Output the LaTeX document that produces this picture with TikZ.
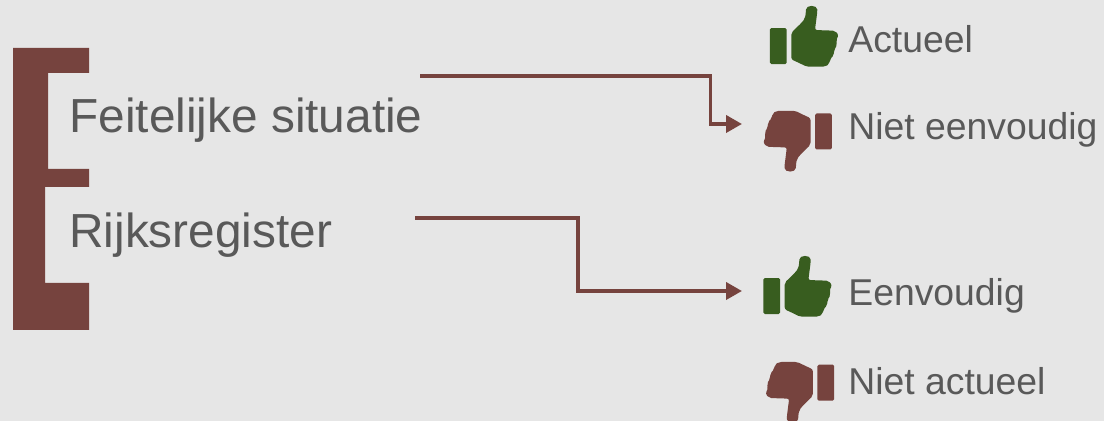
\documentclass[tikz,border=0pt]{standalone}
\usepackage{fontspec}
\usetikzlibrary{arrows.meta}
\setmainfont{Liberation Sans}
\definecolor{bg}{HTML}{E6E6E6}
\definecolor{brown}{HTML}{76433E}
\definecolor{leaf}{HTML}{385D1F}
\definecolor{txt}{HTML}{595959}
\tikzset{
  pics/thumb/.style 2 args={code={
    \begin{scope}[x=0.00667cm, y=-0.00667cm, rotate=#2]
    \fill[#1, rounded corners=0.8pt] (-103,-26) rectangle (-53,82);
    \fill[#1, rounded corners=1.2pt] (-39,-12) -- (-8,-42) -- (2,-55) -- (5,-75)
      .. controls (5,-96) and (39,-96) .. (39,-75)
      -- (32,-20) -- (92,-18) -- (103,-5) -- (95,12) -- (99,25) -- (89,40) -- (89,55) -- (77,68)
      -- (75,82) -- (62,90) -- (7,90) -- (-13,80) -- (-39,68) -- cycle;
    \end{scope}
  }}
}
\begin{document}
\begin{tikzpicture}[x=0.02cm, y=-0.02cm]
\tikzstyle{big}=[text=txt, font=\fontsize{27.2pt}{30pt}\selectfont, anchor=base west, inner sep=0pt]
\tikzstyle{small}=[text=txt, font=\fontsize{21.25pt}{24pt}\selectfont, anchor=base west, inner sep=0pt]
\tikzstyle{link}=[draw=brown, line width=0.075cm, -{Triangle[length=0.32cm, width=0.34cm]}]
\fill[bg] (0,0) rectangle (1104,421);
\useasboundingbox (0,0) rectangle (1104,421);

% bracket
\fill[brown] (13,48) -- (89,48) -- (89,73) -- (48,73) -- (48,169) -- (89,169) -- (89,187) -- (45,187)
  -- (45,283) -- (89,283) -- (89,330) -- (13,330) -- cycle;

\node[big] (feit) at (69,133) {Feitelijke situatie};
\node[big] (rijks) at (69,248) {Rijksregister};

\node[small] (actueel) at (848,52.5) {Actueel};
\node[small] (nieteenv) at (848,140) {Niet eenvoudig};
\node[small] (eenv) at (848,306) {Eenvoudig};
\node[small] (nietact) at (848,395) {Niet actueel};

\pic (upA) at (804.3,36.7) {thumb={leaf}{0}};
\pic (downA) at (797.5,140.8) {thumb={brown}{180}};
\pic (upB) at (797.7,286.7) {thumb={leaf}{0}};
\pic (downB) at (799.8,392) {thumb={brown}{180}};

\coordinate (feitout) at (420,76);
\coordinate (feitin) at (742,124);
\coordinate (rijksout) at (415,218);
\coordinate (rijksin) at (742,291);

\draw[link] (feitout) -| (710.5,124) -- (feitin);
\draw[link] (rijksout) -| (578,291) -- (rijksin);
\end{tikzpicture}
\end{document}
